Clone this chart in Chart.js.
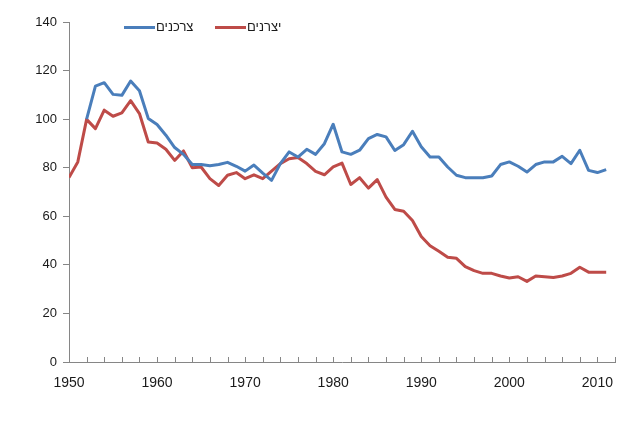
<!DOCTYPE html>
<html>
<head>
<meta charset="utf-8">
<script src="https://cdn.jsdelivr.net/npm/chart.js@4/dist/chart.umd.min.js"></script>
<style>
html,body{margin:0;padding:0;background:#fff;}
#wrap{width:640px;height:427px;position:relative;}
</style>
</head>
<body>
<div id="wrap"><canvas id="c" width="640" height="427"></canvas></div>
<script>
const years = [1950,1951,1952,1953,1954,1955,1956,1957,1958,1959,
  1960,1961,1962,1963,1964,1965,1966,1967,1968,1969,
  1970,1971,1972,1973,1974,1975,1976,1977,1978,1979,
  1980,1981,1982,1983,1984,1985,1986,1987,1988,1989,
  1990,1991,1992,1993,1994,1995,1996,1997,1998,1999,
  2000,2001,2002,2003,2004,2005,2006,2007,2008,2009,
  2010,2011];
const consumers = [null,null,100,113.6,115,110.2,109.8,115.7,111.7,100.3,
  97.8,93.4,88.3,85.5,81.3,81.3,80.8,81.3,82.2,80.6,
  78.6,81.1,77.8,74.8,81.7,86.5,84.4,87.6,85.5,89.9,
  97.9,86.5,85.5,87.2,92,93.7,92.7,87.1,89.5,95,
  88.6,84.4,84.4,80.3,76.9,75.9,75.9,75.9,76.6,81.3,
  82.4,80.6,78.2,81.3,82.4,82.4,84.7,81.7,87.2,78.9,
  78,79.2];
const producers = [76,82.4,99.9,96.1,103.7,101.2,102.6,107.6,102.3,90.6,
  90.2,87.6,83,86.9,80,80.3,75.5,72.7,76.9,78,
  75.5,77.1,75.5,78.6,81.7,83.7,84.2,81.7,78.5,77.1,
  80.3,81.9,73.1,75.9,71.6,75.1,67.9,62.8,62.1,58.3,
  51.7,47.9,45.6,43.1,42.7,39.3,37.6,36.5,36.5,35.4,
  34.6,35.1,33.2,35.4,35.1,34.8,35.4,36.5,39,37,
  37,37];
const seriesNames = ['צרכנים','יצרנים'];
const xTicks = {min:1950, max:2012, step:2, labelEvery:10};
const yTicks = {min:0, max:140, step:20};

const FONT = '"Liberation Sans", Arial, "DejaVu Sans", sans-serif';
const BLUE = '#4A7EBB', RED = '#BE4B48', AXIS = '#868686', TEXT = '#1a1a1a';

const toPts = vals => years.map((yr,i)=>({x:yr, y:vals[i]}));

const legendPlugin = {
  id:'customLegend',
  afterDraw(chart){
    const ctx = chart.ctx;
    const starts = [124, 215];
    ctx.save();
    ctx.font = '13px ' + FONT;
    ctx.textBaseline = 'middle';
    ctx.textAlign = 'left';
    chart.data.datasets.forEach((ds,i)=>{
      const x0 = starts[i], y0 = 27.5;
      ctx.strokeStyle = ds.borderColor;
      ctx.lineWidth = 3;
      ctx.beginPath();
      ctx.moveTo(x0, y0); ctx.lineTo(x0+31, y0); ctx.stroke();
      ctx.fillStyle = TEXT;
      ctx.fillText(ds.label, x0+32, y0);
    });
    ctx.restore();
  }
};

const xTickPlugin = {
  id:'xInsideTicks',
  afterDraw(chart){
    const sc = chart.scales.x, ctx = chart.ctx;
    const b = chart.chartArea.bottom;
    ctx.save();
    ctx.strokeStyle = AXIS; ctx.lineWidth = 1;
    sc.ticks.forEach(t=>{
      const px = Math.round(sc.getPixelForValue(t.value)) + 0.5;
      ctx.beginPath(); ctx.moveTo(px, b); ctx.lineTo(px, b-5); ctx.stroke();
    });
    ctx.restore();
  }
};

new Chart(document.getElementById('c'), {
  type:'line',
  data:{
    datasets:[
      {label:seriesNames[0], data:toPts(consumers), borderColor:BLUE, backgroundColor:BLUE,
       borderWidth:3, pointRadius:0, tension:0, borderJoinStyle:'round', spanGaps:false},
      {label:seriesNames[1], data:toPts(producers), borderColor:RED, backgroundColor:RED,
       borderWidth:3, pointRadius:0, tension:0, borderJoinStyle:'round'}
    ]
  },
  options:{
    responsive:false,
    animation:false,
    layout:{padding:{left:0, right:25, top:22, bottom:0}},
    plugins:{legend:{display:false}, tooltip:{enabled:false}},
    scales:{
      x:{
        type:'linear', min:xTicks.min, max:xTicks.max,
        grid:{display:false},
        border:{display:true, color:AXIS, width:1},
        ticks:{
          stepSize:xTicks.step, autoSkip:false, maxRotation:0, padding:5,
          color:TEXT, font:{family:FONT, size:14},
          callback:v => (v % xTicks.labelEvery === 0 ? String(v) : '')
        },
        afterFit(s){ s.height = 65; }
      },
      y:{
        min:yTicks.min, max:yTicks.max,
        grid:{display:true, drawOnChartArea:false, drawTicks:true, tickLength:6, color:AXIS},
        border:{display:true, color:AXIS, width:1},
        ticks:{stepSize:yTicks.step, padding:6, color:TEXT, font:{family:FONT, size:13}},
        afterFit(s){ s.width = 69; }
      }
    }
  },
  plugins:[legendPlugin, xTickPlugin]
});
</script>
</body>
</html>
